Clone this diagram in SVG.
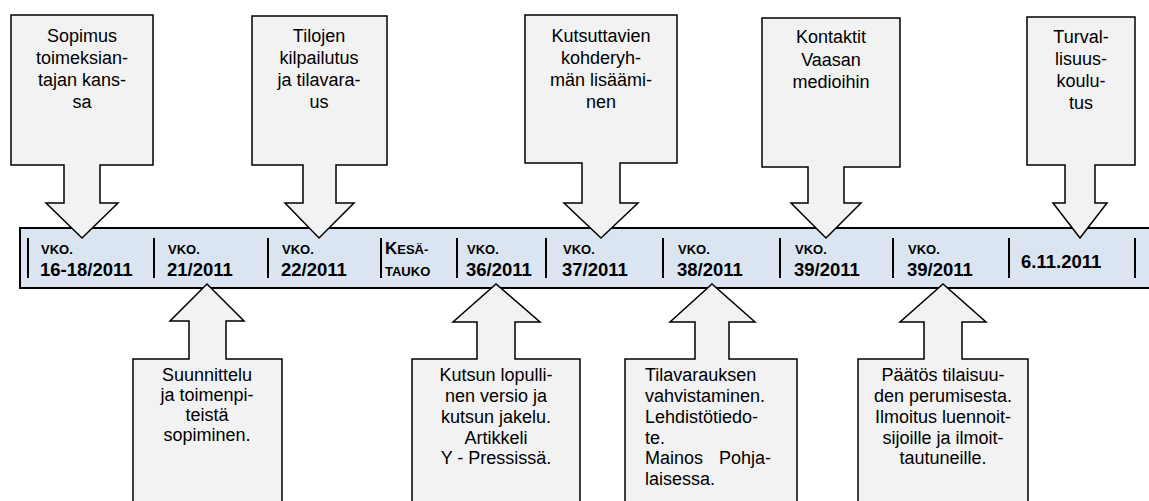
<svg xmlns="http://www.w3.org/2000/svg" width="1149" height="501" viewBox="0 0 1149 501">
<style>
.co{fill:#f2f2f2;stroke:#000;stroke-width:1.5;stroke-linejoin:miter}
.bar{fill:#dbe5f1;stroke:#000;stroke-width:2}
.div{stroke:#000;stroke-width:2}
.t{font-family:"Liberation Sans",Arial,sans-serif;font-size:18px;fill:#000}
.c{text-anchor:middle}
.sc{font-family:"Liberation Sans",Arial,sans-serif;font-size:13px;font-weight:bold;fill:#000}
.n{font-family:"Liberation Sans",Arial,sans-serif;font-size:18.5px;font-weight:bold;fill:#000}
</style>
<rect width="1149" height="501" fill="#fff"/>
<g id="timeline">
<rect class="bar" x="20" y="228" width="1140" height="60"/>
<g class="div">
<line x1="28" y1="238" x2="28" y2="278"/>
<line x1="154" y1="238" x2="154" y2="278"/>
<line x1="268" y1="238" x2="268" y2="278"/>
<line x1="381" y1="238" x2="381" y2="278"/>
<line x1="457" y1="238" x2="457" y2="278"/>
<line x1="546" y1="238" x2="546" y2="278"/>
<line x1="663" y1="238" x2="663" y2="278"/>
<line x1="780" y1="238" x2="780" y2="278"/>
<line x1="893" y1="238" x2="893" y2="278"/>
<line x1="1009" y1="238" x2="1009" y2="278"/>
<line x1="1135" y1="238" x2="1135" y2="278"/>
</g>
<text class="sc" x="41" y="254">VKO.</text><text class="n" x="40" y="276">16-18/2011</text>
<text class="sc" x="168" y="254">VKO.</text><text class="n" x="167" y="276">21/2011</text>
<text class="sc" x="282" y="254">VKO.</text><text class="n" x="281" y="276">22/2011</text>
<text class="sc" x="385" y="254"><tspan style="font-size:17px">K</tspan>ESÄ-</text><text class="sc" x="385" y="276">TAUKO</text>
<text class="sc" x="467" y="254">VKO.</text><text class="n" x="466" y="276">36/2011</text>
<text class="sc" x="563" y="254">VKO.</text><text class="n" x="562" y="276">37/2011</text>
<text class="sc" x="678" y="254">VKO.</text><text class="n" x="677" y="276">38/2011</text>
<text class="sc" x="795" y="254">VKO.</text><text class="n" x="794" y="276">39/2011</text>
<text class="sc" x="908" y="254">VKO.</text><text class="n" x="907" y="276">39/2011</text>
<text class="n" x="1021" y="268">6.11.2011</text>
</g>
<g id="connectors"></g>
<g id="top1">
<path class="co" d="M11 15H153V165H100V203H118L82 238L46 203H64V165H11Z"/>
<text class="t c" x="82" y="42">Sopimus</text>
<text class="t c" x="82" y="64">toimeksian-</text>
<text class="t c" x="82" y="86">tajan kans-</text>
<text class="t c" x="82" y="108">sa</text>
</g>
<g id="top2">
<path class="co" d="M252 16H387V165H336V203H354L319 238L285 203H303V165H252Z"/>
<text class="t c" x="319" y="42">Tilojen</text>
<text class="t c" x="319" y="64">kilpailutus</text>
<text class="t c" x="319" y="86">ja tilavara-</text>
<text class="t c" x="319" y="108">us</text>
</g>
<g id="top3">
<path class="co" d="M525 15H677V163H620V203H638L601 238L564 203H582V163H525Z"/>
<text class="t c" x="601" y="42">Kutsuttavien</text>
<text class="t c" x="601" y="64">kohderyh-</text>
<text class="t c" x="601" y="86">män lisäämi-</text>
<text class="t c" x="601" y="108">nen</text>
</g>
<g id="top4">
<path class="co" d="M762 18H900V167H844V203H861L826 238L791 203H808V167H762Z"/>
<text class="t c" x="831" y="43">Kontaktit</text>
<text class="t c" x="831" y="66">Vaasan</text>
<text class="t c" x="831" y="88">medioihin</text>
</g>
<g id="top5">
<path class="co" d="M1027 17H1135V165H1095V203H1107L1080 238L1053 203H1065V165H1027Z"/>
<text class="t c" x="1081" y="43">Turval-</text>
<text class="t c" x="1081" y="65">lisuus-</text>
<text class="t c" x="1081" y="87">koulu-</text>
<text class="t c" x="1081" y="109">tus</text>
</g>
<g id="bottom1">
<path class="co" d="M133 520V359H189V321H170L207 284L244 321H226V359H282V520"/>
<text class="t c" x="207" y="381">Suunnittelu</text>
<text class="t c" x="207" y="401">ja toimenpi-</text>
<text class="t c" x="207" y="421">teistä</text>
<text class="t c" x="207" y="441">sopiminen.</text>
</g>
<g id="bottom2">
<path class="co" d="M412 520V359H477V322H453L496 284L540 322H515V359H580V520"/>
<text class="t c" x="496" y="381">Kutsun lopulli-</text>
<text class="t c" x="496" y="402">nen versio ja</text>
<text class="t c" x="496" y="423">kutsun jakelu.</text>
<text class="t c" x="496" y="444">Artikkeli</text>
<text class="t c" x="496" y="464">Y - Pressissä.</text>
</g>
<g id="bottom3">
<path class="co" d="M625 520V359H695V322H670L712 284L755 322H729V359H797V520"/>
<text class="t" x="645" y="381">Tilavarauksen</text>
<text class="t" x="645" y="402">vahvistaminen.</text>
<text class="t" x="645" y="423">Lehdistötiedo-</text>
<text class="t" x="645" y="444">te.</text>
<text class="t" x="645" y="464">Mainos</text><text class="t" x="771" y="464" text-anchor="end">Pohja-</text>
<text class="t" x="645" y="485">laisessa.</text>
</g>
<g id="bottom4">
<path class="co" d="M858 520V359H924V322H900L943 284L986 322H962V359H1028V520"/>
<text class="t c" x="943" y="381">Päätös tilaisuu-</text>
<text class="t c" x="943" y="402">den perumisesta.</text>
<text class="t c" x="943" y="423">Ilmoitus luennoit-</text>
<text class="t c" x="943" y="444">sijoille ja ilmoit-</text>
<text class="t c" x="943" y="464">tautuneille.</text>
</g>
</svg>
